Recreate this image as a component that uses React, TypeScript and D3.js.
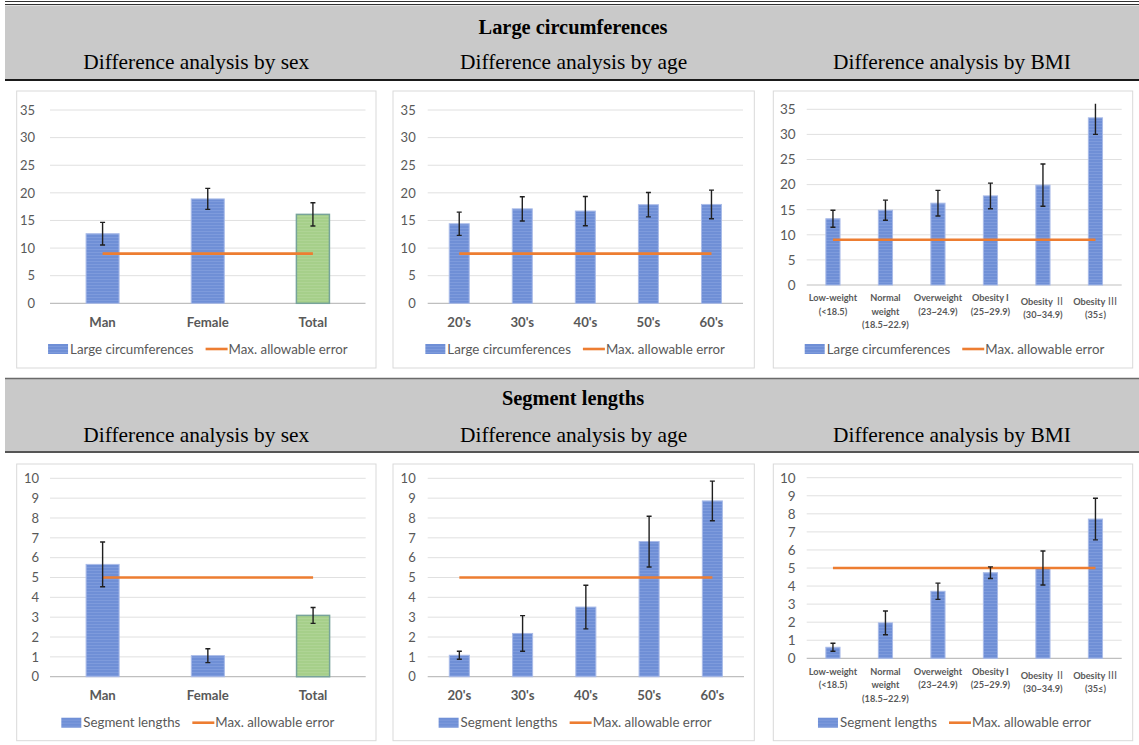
import React, { useEffect, useRef } from 'react';
import * as d3 from 'd3';

// categories
const sexCategories = [['Man'], ['Female'], ['Total']];
const ageCategories = [["20's"], ["30's"], ["40's"], ["50's"], ["60's"]];
const bmiCategories = [
  ['Low-weight', '(<18.5)'],
  ['Normal', 'weight', '(18.5~22.9)'],
  ['Overweight', '(23~24.9)'],
  ['Obesity I', '(25~29.9)'],
  ['Obesity Ⅱ', '(30~34.9)'],
  ['Obesity Ⅲ', '(35≤)'],
];

// large circumferences (mean difference, error bar)
const circSex = [12.6, 18.9, 16.1];
const circSexErr = [2.05, 1.9, 2.1];
const circAge = [14.4, 17.1, 16.7, 17.85, 17.9];
const circAgeErr = [2.1, 2.2, 2.65, 2.2, 2.6];
const circBmi = [13.2, 14.9, 16.3, 17.75, 19.9, 33.3];
const circBmiErr = [1.7, 2.0, 2.55, 2.55, 4.2, 3.3];
const circMaxError = 9;

// segment lengths
const segSex = [5.66, 1.06, 3.09];
const segSexErr = [1.13, 0.35, 0.4];
const segAge = [1.08, 2.18, 3.51, 6.81, 8.86];
const segAgeErr = [0.2, 0.9, 1.1, 1.28, 1.0];
const segBmi = [0.61, 1.96, 3.71, 4.74, 5.0, 7.71];
const segBmiErr = [0.22, 0.66, 0.45, 0.32, 0.94, 1.15];
const segMaxError = 5;

const sectionTitles = ['Large circumferences', 'Segment lengths'];
const columnTitles = ['Difference analysis by sex', 'Difference analysis by age', 'Difference analysis by BMI'];
const legendMax = 'Max. allowable error';

interface Layout {
  box: [number, number, number, number];
  x0: number;
  x1: number;
  yTop: number;
  yBottom: number;
  tickRight: number;
  catY: number;
  legendY: number;
  barRatio: number;
  small?: boolean;
}

interface Panel {
  cats: string[][];
  values: number[];
  errors: number[];
  maxError: number;
  series: string;
  yMax: number;
  yStep: number;
  totalLast: boolean;
  layout: Layout;
}

const W = 1139;
const H = 745;

const panels: Panel[] = [
  {
    cats: sexCategories, values: circSex, errors: circSexErr, maxError: circMaxError,
    series: 'Large circumferences', yMax: 35, yStep: 5, totalLast: true,
    layout: { box: [16.7, 91, 376, 368], x0: 50, x1: 365.5, yTop: 110, yBottom: 303.3, tickRight: 35, catY: 322, legendY: 349, barRatio: 0.314 },
  },
  {
    cats: ageCategories, values: circAge, errors: circAgeErr, maxError: circMaxError,
    series: 'Large circumferences', yMax: 35, yStep: 5, totalLast: false,
    layout: { box: [393, 91, 754.3, 368], x0: 427.7, x1: 743, yTop: 110, yBottom: 303.3, tickRight: 415.7, catY: 322, legendY: 349, barRatio: 0.317 },
  },
  {
    cats: bmiCategories, values: circBmi, errors: circBmiErr, maxError: circMaxError,
    series: 'Large circumferences', yMax: 35, yStep: 5, totalLast: false,
    layout: { box: [773.3, 91, 1132.7, 368], x0: 806.7, x1: 1121.7, yTop: 109.3, yBottom: 285, tickRight: 795.7, catY: 298, legendY: 349, barRatio: 0.27, small: true },
  },
  {
    cats: sexCategories, values: segSex, errors: segSexErr, maxError: segMaxError,
    series: 'Segment lengths', yMax: 10, yStep: 1, totalLast: true,
    layout: { box: [16.7, 464, 376, 740.7], x0: 50, x1: 365.7, yTop: 478.3, yBottom: 676.7, tickRight: 39, catY: 695.7, legendY: 722.7, barRatio: 0.314 },
  },
  {
    cats: ageCategories, values: segAge, errors: segAgeErr, maxError: segMaxError,
    series: 'Segment lengths', yMax: 10, yStep: 1, totalLast: false,
    layout: { box: [393, 464, 754.3, 740.7], x0: 427.7, x1: 744, yTop: 478.3, yBottom: 676.7, tickRight: 415.7, catY: 695.7, legendY: 722.7, barRatio: 0.317 },
  },
  {
    cats: bmiCategories, values: segBmi, errors: segBmiErr, maxError: segMaxError,
    series: 'Segment lengths', yMax: 10, yStep: 1, totalLast: false,
    layout: { box: [773.3, 464, 1132.7, 740.7], x0: 806.7, x1: 1121.7, yTop: 477.7, yBottom: 658.3, tickRight: 795.7, catY: 671.7, legendY: 722.7, barRatio: 0.27, small: true },
  },
];

const FONT = 'Lato, "Open Sans", sans-serif';
const CJK = '"Noto Sans CJK KR", "Noto Sans CJK SC", sans-serif';
const SERIF = '"Liberation Serif", "Times New Roman", serif';
const TEXT_GRAY = '#595959';
const ORANGE = '#ed7d31';

const App: React.FC = () => {
  const svgRef = useRef<SVGSVGElement | null>(null);

  useEffect(() => {
    const svg = d3.select(svgRef.current);
    svg.selectAll('*').remove();

    const defs = svg.append('defs');
    const pat = defs.append('pattern').attr('id', 'bluePat').attr('width', 4).attr('height', 3).attr('patternUnits', 'userSpaceOnUse');
    pat.append('rect').attr('width', 4).attr('height', 3).attr('fill', '#6f8fd6');
    pat.append('rect').attr('width', 4).attr('height', 1).attr('fill', '#7e9bdc');
    const gpat = defs.append('pattern').attr('id', 'greenPat').attr('width', 4).attr('height', 3).attr('patternUnits', 'userSpaceOnUse');
    gpat.append('rect').attr('width', 4).attr('height', 3).attr('fill', '#a6cf8a');
    gpat.append('rect').attr('width', 4).attr('height', 1).attr('fill', '#afd495');

    svg.append('rect').attr('width', W).attr('height', H).attr('fill', '#fff');

    // section header bands
    const bands = [
      { top: 5.5, bottom: 79.5, titleY: 27, subY: 62, topDouble: true },
      { top: 379, bottom: 451.5, titleY: 398, subY: 435, topDouble: false },
    ];
    const colCenters = [196.3, 573.6, 952];
    bands.forEach((b, i) => {
      svg.append('rect').attr('x', 5).attr('y', b.top).attr('width', W - 5).attr('height', b.bottom - b.top).attr('fill', '#c9c9c9');
      if (b.topDouble) {
        svg.append('line').attr('x1', 5).attr('x2', W).attr('y1', 1.5).attr('y2', 1.5).attr('stroke', '#333').attr('stroke-width', 1);
        svg.append('line').attr('x1', 5).attr('x2', W).attr('y1', 4.5).attr('y2', 4.5).attr('stroke', '#333').attr('stroke-width', 1);
      } else {
        svg.append('line').attr('x1', 5).attr('x2', W).attr('y1', b.top - 0.5).attr('y2', b.top - 0.5).attr('stroke', '#6a6a6a').attr('stroke-width', 1.5);
      }
      svg.append('line').attr('x1', 5).attr('x2', W).attr('y1', b.bottom + 0.5).attr('y2', b.bottom + 0.5).attr('stroke', i === 0 ? '#1a1a1a' : '#555').attr('stroke-width', 2);
      svg.append('text').attr('x', 573).attr('y', b.titleY).attr('dy', '0.35em').attr('text-anchor', 'middle')
        .attr('font-family', SERIF).attr('font-weight', 'bold').attr('font-size', 20.4).attr('fill', '#000')
        .text(sectionTitles[i]);
      columnTitles.forEach((t, j) => {
        svg.append('text').attr('x', colCenters[j]).attr('y', b.subY).attr('dy', '0.35em').attr('text-anchor', 'middle')
          .attr('font-family', SERIF).attr('font-size', 21.4).attr('fill', '#000').text(t);
      });
    });

    panels.forEach((p, pi) => {
      const L = p.layout;
      const g = svg.append('g');
      const [bx0, by0, bx1, by1] = L.box;
      g.append('rect').attr('x', bx0).attr('y', by0).attr('width', bx1 - bx0).attr('height', by1 - by0)
        .attr('fill', '#fff').attr('stroke', '#d9d9d9').attr('stroke-width', 1);

      const x = d3.scaleBand<number>()
        .domain(d3.range(p.values.length))
        .range([L.x0, L.x1])
        .paddingInner(1 - L.barRatio)
        .paddingOuter((1 - L.barRatio) / 2);
      const y = d3.scaleLinear().domain([0, p.yMax]).range([L.yBottom, L.yTop]);
      const ticks = d3.range(0, p.yMax + p.yStep / 2, p.yStep);

      // gridlines
      g.selectAll('line.grid').data(ticks.filter((t) => t > 0)).enter().append('line')
        .attr('x1', L.x0).attr('x2', L.x1).attr('y1', (d) => y(d)).attr('y2', (d) => y(d))
        .attr('stroke', '#e0e0e0').attr('stroke-width', 1);
      g.append('line').attr('x1', L.x0).attr('x2', L.x1).attr('y1', y(0)).attr('y2', y(0))
        .attr('stroke', '#bfbfbf').attr('stroke-width', 1.2);

      // tick labels
      g.selectAll('text.tick').data(ticks).enter().append('text')
        .attr('x', L.tickRight).attr('y', (d) => y(d)).attr('dy', '0.36em').attr('text-anchor', 'end')
        .attr('font-family', FONT).attr('font-size', L.small ? 13.5 : 13).attr('fill', TEXT_GRAY)
        .text((d) => String(d));

      // bars
      const bw = x.bandwidth();
      g.selectAll('rect.bar').data(p.values).enter().append('rect')
        .attr('x', (_, i) => x(i)!)
        .attr('y', (d) => y(d))
        .attr('width', bw)
        .attr('height', (d) => y(0) - y(d))
        .attr('fill', (_, i) => (p.totalLast && i === p.values.length - 1 ? 'url(#greenPat)' : 'url(#bluePat)'))
        .attr('stroke', (_, i) => (p.totalLast && i === p.values.length - 1 ? '#77a39a' : '#a9bbe8'))
        .attr('stroke-width', (_, i) => (p.totalLast && i === p.values.length - 1 ? 1.5 : 1));

      // max allowable error line
      const line = d3.line<number>().x((i) => x(i)! + bw / 2).y(() => y(p.maxError));
      g.append('path').attr('d', line([0, p.values.length - 1])!).attr('fill', 'none')
        .attr('stroke', ORANGE).attr('stroke-width', 2.6);

      // error bars (clipped to plot area)
      const clipId = `clip${pi}`;
      defs.append('clipPath').attr('id', clipId).append('rect')
        .attr('x', L.x0).attr('y', L.yTop - 5.5).attr('width', L.x1 - L.x0).attr('height', L.yBottom - L.yTop + 5.5);
      const eg = g.append('g').attr('clip-path', `url(#${clipId})`);
      p.values.forEach((v, i) => {
        const cx = x(i)! + bw / 2;
        const e = p.errors[i];
        eg.append('line').attr('x1', cx).attr('x2', cx).attr('y1', y(v + e)).attr('y2', y(v - e))
          .attr('stroke', '#1f1f1f').attr('stroke-width', 1.4);
        [v + e, v - e].forEach((ev) => {
          eg.append('line').attr('x1', cx - 2.5).attr('x2', cx + 2.5).attr('y1', y(ev)).attr('y2', y(ev))
            .attr('stroke', '#1f1f1f').attr('stroke-width', 1.4);
        });
      });

      // category labels
      p.cats.forEach((lines, i) => {
        const cx = x(i)! + bw / 2;
        const hasRoman = /[ⅡⅢ]/.test(lines[0]);
        const shift = L.small && hasRoman ? 3.8 : 0;
        lines.forEach((ln, k) => {
          const t = g.append('text').attr('x', cx).attr('y', L.catY + shift + k * (L.small ? 13.3 : 0)).attr('dy', '0.36em')
            .attr('text-anchor', 'middle').attr('font-family', FONT).attr('font-weight', 'bold')
            .attr('font-size', L.small ? 9.2 : 13.2).attr('fill', TEXT_GRAY);
          const m = ln.match(/^(.*?)([ⅡⅢ])$/);
          if (m) {
            t.append('tspan').text(m[1]);
            t.append('tspan').attr('font-family', CJK).attr('font-weight', 'normal').attr('font-size', 10.5).text(m[2]);
          } else {
            t.text(ln);
          }
        });
      });

      // legend
      const lg = g.append('g');
      const fs = 13.3;
      lg.append('rect').attr('x', 0).attr('y', -5).attr('width', 20).attr('height', 10).attr('fill', 'url(#bluePat)');
      const t1 = lg.append('text').attr('x', 22).attr('y', 0).attr('dy', '0.36em').attr('font-family', FONT)
        .attr('font-size', fs).attr('fill', TEXT_GRAY).text(p.series);
      const w1 = (t1.node() as SVGTextElement).getComputedTextLength();
      const ox = 22 + w1 + 12;
      lg.append('line').attr('x1', ox).attr('x2', ox + 22).attr('y1', 0).attr('y2', 0).attr('stroke', ORANGE).attr('stroke-width', 2.6);
      const t2 = lg.append('text').attr('x', ox + 23).attr('y', 0).attr('dy', '0.36em').attr('font-family', FONT)
        .attr('font-size', fs).attr('fill', TEXT_GRAY).text(legendMax);
      const w2 = (t2.node() as SVGTextElement).getComputedTextLength();
      const total = ox + 23 + w2;
      const center = (bx0 + bx1) / 2 + 1.5;
      lg.attr('transform', `translate(${center - total / 2}, ${L.legendY})`);
    });
  }, []);

  return (
    <div style={{ position: 'absolute', left: 0, top: 0 }}>
      <svg ref={svgRef} width={W} height={H} style={{ display: 'block' }}></svg>
    </div>
  );
};

export default App;
